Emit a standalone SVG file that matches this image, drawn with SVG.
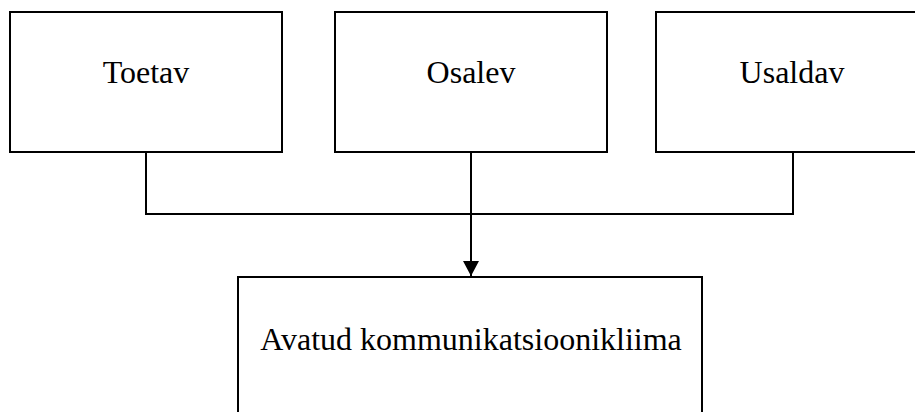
<svg xmlns="http://www.w3.org/2000/svg" width="915" height="412" viewBox="0 0 915 412">
  <style>
    .box { fill: #ffffff; stroke: #000000; stroke-width: 2; }
    .label { font-family: "Liberation Serif", "Times New Roman", serif; font-size: 32px; fill: #000000; text-anchor: middle; }
    .wire { fill: none; stroke: #000000; stroke-width: 2; }
  </style>
  <defs>
    <marker id="arrow" markerUnits="userSpaceOnUse" markerWidth="18" markerHeight="18" refX="15" refY="8" orient="auto">
      <path d="M0,0 L15,8 L0,16 Z" fill="#000000"/>
    </marker>
  </defs>
  <rect width="915" height="412" fill="#ffffff"/>

  <g id="connectors">
    <polyline class="wire" points="146,152 146,214 793,214 793,152"/>
    <line class="wire" x1="471" y1="152" x2="471" y2="214"/>
    <line class="wire" x1="471" y1="214" x2="471" y2="276" marker-end="url(#arrow)"/>
  </g>

  <g id="toetav">
    <rect class="box" x="10" y="12" width="272" height="140"/>
    <text class="label" x="146" y="83">Toetav</text>
  </g>

  <g id="osalev">
    <rect class="box" x="335" y="12" width="272" height="140"/>
    <text class="label" x="471" y="83">Osalev</text>
  </g>

  <g id="usaldav">
    <rect class="box" x="656" y="12" width="272" height="140"/>
    <text class="label" x="792" y="83">Usaldav</text>
  </g>

  <g id="avatud">
    <rect class="box" x="238" y="277" width="464" height="150"/>
    <text class="label" x="471" y="350">Avatud kommunikatsioonikliima</text>
  </g>
</svg>
